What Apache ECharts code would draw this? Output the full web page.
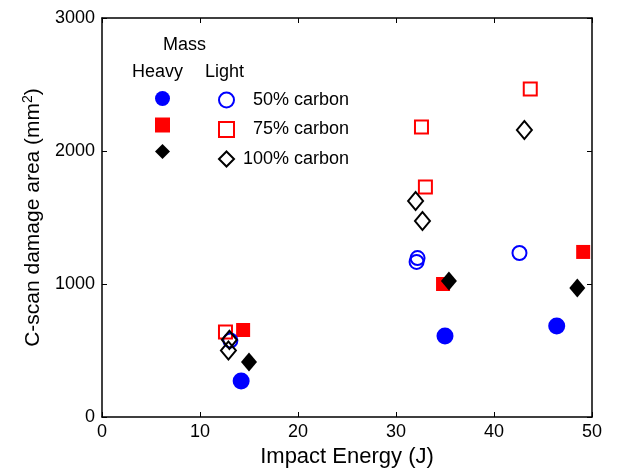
<!DOCTYPE html>
<html>
<head>
<meta charset="utf-8">
<script src="https://cdn.jsdelivr.net/npm/echarts@6/dist/echarts.min.js"></script>
<style>
  html, body { margin: 0; padding: 0; background: #fff; }
  #chart { width: 619px; height: 470px; }
</style>
</head>
<body>
<div id="chart"></div>
<script>
// [impact energy (J), damage area (mm2)]
var heavy50 = [[14.2, 270], [35.0, 609], [46.4, 684]];
var heavy75 = [[14.4, 654], [34.8, 1000], [49.1, 1241]];
var heavy100 = [[15.0, 414], [35.4, 1022], [48.5, 970]];
var light50 = [[13.1, 575], [32.2, 1195], [32.1, 1166], [42.6, 1233]];
var light75 = [[12.6, 640], [32.6, 2181], [33.0, 1730], [43.7, 2466]];
var light100 = [[13.0, 580], [12.9, 500], [32.0, 1624], [32.7, 1474], [43.1, 2158]];

var xTicks = [0, 10, 20, 30, 40, 50];
var yTicks = [0, 1000, 2000, 3000];

var FONT = "Liberation Sans, Arial, sans-serif";
var BLUE = "#0000ff";
var RED = "#ff0000";
var BLACK = "#000000";

var chart = echarts.init(document.getElementById("chart"));

function filled(name, data, symbol, size, color) {
  return {
    name: name, type: "scatter", data: data, symbol: symbol, symbolSize: size,
    xAxisIndex: 0, yAxisIndex: 0,
    itemStyle: { color: color, borderWidth: 0, opacity: 1 },
    emphasis: { disabled: true }
  };
}
function hollow(name, data, symbol, size, color) {
  return {
    name: name, type: "scatter", data: data, symbol: symbol, symbolSize: size,
    xAxisIndex: 0, yAxisIndex: 0,
    itemStyle: { color: "rgba(0,0,0,0)", borderColor: color, borderWidth: 2, opacity: 1 },
    emphasis: { disabled: true }
  };
}

var diamond = "path://M0,-1L1,0L0,1L-1,0Z";

var axisBase = {
  axisLine: { show: true, onZero: false, lineStyle: { color: BLACK, width: 1.5 } },
  axisTick: { show: true, inside: true, length: 5, lineStyle: { color: BLACK, width: 1 } },
  splitLine: { show: false }
};

var legendBase = {
  orient: "vertical", top: 86, itemWidth: 15, itemHeight: 15, itemGap: 11.5,
  selectedMode: false,
  textStyle: { fontFamily: FONT, fontSize: 18, lineHeight: 15, color: BLACK, padding: [0, 0, 0, 4] }
};

var options = {
  animation: false,
  backgroundColor: "#fff",
  grid: { left: 102, right: 27, top: 18, bottom: 53, outerBoundsMode: "none", containLabel: false },
  xAxis: [
    Object.assign({}, axisBase, {
      type: "value", min: xTicks[0], max: xTicks[xTicks.length - 1], interval: 10,
      position: "bottom",
      name: "Impact Energy (J)", nameLocation: "middle", nameGap: 29,
      nameTextStyle: { fontFamily: FONT, fontSize: 22, color: BLACK },
      axisLabel: { fontFamily: FONT, fontSize: 18, color: BLACK, margin: 6 }
    }),
    Object.assign({}, axisBase, {
      type: "value", min: xTicks[0], max: xTicks[xTicks.length - 1], interval: 10,
      position: "top", axisLabel: { show: false }
    })
  ],
  yAxis: [
    Object.assign({}, axisBase, {
      type: "value", min: yTicks[0], max: yTicks[yTicks.length - 1], interval: 1000,
      position: "left",
      name: "C-scan damage area (mm{sup|2})", nameLocation: "middle", nameGap: 57,
      nameTextStyle: {
        fontFamily: FONT, fontSize: 21, color: BLACK,
        rich: { sup: { fontFamily: FONT, fontSize: 14, color: BLACK, verticalAlign: "top", padding: [0, 0, 10, 0] } }
      },
      axisLabel: {
        fontFamily: FONT, fontSize: 18, color: BLACK, margin: 7,
        formatter: function (v) { return String(v); }
      }
    }),
    Object.assign({}, axisBase, {
      type: "value", min: yTicks[0], max: yTicks[yTicks.length - 1], interval: 1000,
      position: "right", axisLabel: { show: false }
    })
  ],
  legend: [
    Object.assign({}, legendBase, {
      left: 150,
      data: [
        { name: "Heavy 50%", icon: "circle" },
        { name: "Heavy 75%", icon: "rect" },
        { name: "Heavy 100%", icon: diamond }
      ],
      formatter: function () { return ""; }
    }),
    Object.assign({}, legendBase, {
      left: 213,
      data: [
        { name: "Light 50%", icon: "circle" },
        { name: "Light 75%", icon: "rect" },
        { name: "Light 100%", icon: diamond }
      ],
      formatter: function (n) {
        var t = n.replace("Light ", "") + " carbon";
        return t.length < 11 ? "  " + t : t;
      }
    })
  ],
  graphic: [
    { type: "text", left: 163, top: 36, style: { text: "Mass", font: "18px " + FONT, fill: BLACK } },
    { type: "text", left: 132, top: 63, style: { text: "Heavy", font: "18px " + FONT, fill: BLACK } },
    { type: "text", left: 205, top: 63, style: { text: "Light", font: "18px " + FONT, fill: BLACK } }
  ],
  series: [
    filled("Heavy 50%", heavy50, "circle", 17, BLUE),
    filled("Heavy 75%", heavy75, "rect", 14, RED),
    filled("Heavy 100%", heavy100, diamond, [16, 19], BLACK),
    hollow("Light 50%", light50, "circle", 14, BLUE),
    hollow("Light 75%", light75, "rect", 13, RED),
    hollow("Light 100%", light100, diamond, [15, 18], BLACK)
  ]
};

chart.setOption(options);
</script>
</body>
</html>
